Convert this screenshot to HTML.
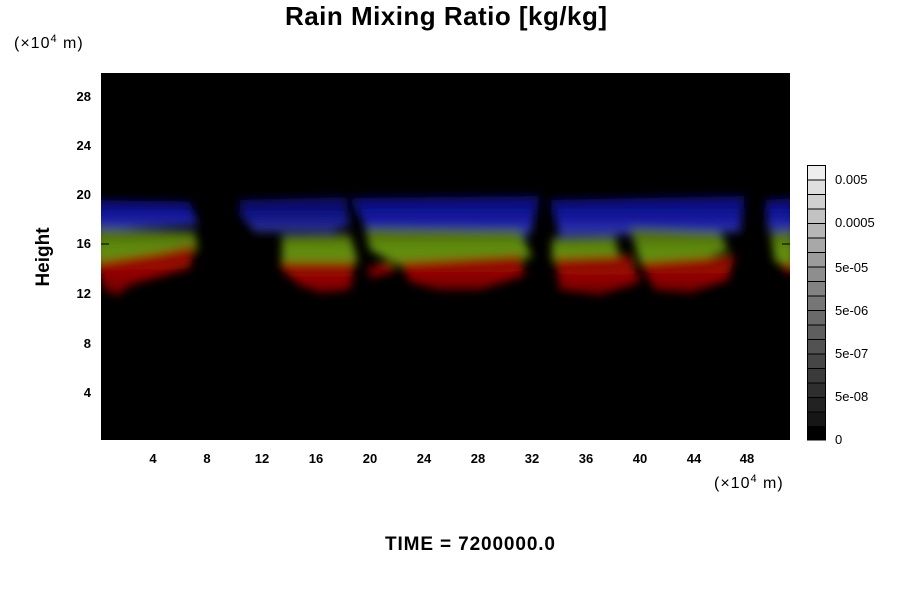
<!DOCTYPE html>
<html><head><style>
body{margin:0;background:#fff;width:900px;height:600px;overflow:hidden;font-family:"Liberation Sans",sans-serif;}
</style></head><body>
<svg width="900" height="600" xmlns="http://www.w3.org/2000/svg" font-family="Liberation Sans, sans-serif">
<defs>
<filter id="b" x="-20%" y="-50%" width="140%" height="200%"><feGaussianBlur stdDeviation="4.5"/></filter>
<clipPath id="c"><rect x="101" y="73" width="689" height="367"/></clipPath>
<linearGradient id="gb" x1="0" y1="0" x2="0" y2="1"><stop offset="0" stop-color="#0a0a70"/><stop offset="0.6" stop-color="#1418a0"/><stop offset="1" stop-color="#3a40a8"/></linearGradient>
<linearGradient id="gg" x1="0" y1="0" x2="0" y2="1"><stop offset="0" stop-color="#4a5a10"/><stop offset="0.5" stop-color="#5e8e08"/><stop offset="1" stop-color="#6a8a08"/></linearGradient>
<linearGradient id="gr" x1="0" y1="0" x2="0" y2="1"><stop offset="0" stop-color="#8a1006"/><stop offset="0.5" stop-color="#960606"/><stop offset="1" stop-color="#6a0404"/></linearGradient>
</defs>
<text x="446" y="25" font-size="26" font-weight="bold" text-anchor="middle" textLength="322">Rain Mixing Ratio [kg/kg]</text>
<text x="14" y="48" font-size="16" letter-spacing="1">(×10<tspan font-size="11" dy="-6">4</tspan><tspan dy="6">  m)</tspan></text>
<rect x="101" y="73" width="689" height="367" fill="#000"/>
<g clip-path="url(#c)" filter="url(#b)">
<!-- blue -->
<path d="M95,200 L190,202 L198,225 L95,230Z" fill="url(#gb)"/>
<path d="M240,200 L345,197 L350,225 L330,232 L255,232 L240,215Z" fill="url(#gb)" opacity="0.85"/>
<path d="M350,198 L540,196 L530,235 L370,235Z" fill="url(#gb)"/>
<path d="M550,200 L745,196 L740,232 L560,236Z" fill="url(#gb)"/>
<path d="M765,200 L795,198 L795,232 L768,230Z" fill="url(#gb)"/>
<!-- green -->
<path d="M95,228 L195,232 L198,250 L95,268Z" fill="url(#gg)"/>
<path d="M282,235 L350,234 L358,262 L282,262Z" fill="url(#gg)"/>
<path d="M365,228 L520,230 L532,258 L400,266 L370,250Z" fill="url(#gg)"/>
<path d="M552,238 L615,236 L620,262 L552,262Z" fill="url(#gg)"/>
<path d="M630,228 L720,232 L728,250 L665,272 L640,262Z" fill="url(#gg)"/>
<path d="M770,232 L795,230 L795,268 L775,262Z" fill="url(#gg)"/>
<!-- red -->
<path d="M95,262 L160,252 L195,245 L190,268 L130,285 L118,296 L105,290Z" fill="url(#gr)"/>
<path d="M280,262 L355,262 L350,290 L320,293 L300,285 L282,270Z" fill="url(#gr)"/>
<path d="M368,268 L390,262 L395,272 L370,278Z" fill="url(#gr)"/>
<path d="M400,262 L520,255 L525,275 L480,290 L440,290 L410,282Z" fill="url(#gr)"/>
<path d="M555,258 L630,255 L640,282 L600,295 L560,290Z" fill="url(#gr)"/>
<path d="M640,262 L735,255 L728,280 L690,293 L655,290Z" fill="url(#gr)"/>
<path d="M780,262 L795,265 L795,275 L785,272Z" fill="url(#gr)"/>
</g>
<g stroke="#000" stroke-width="1">
<line x1="101" y1="244" x2="109" y2="244"/><line x1="782" y1="244" x2="790" y2="244"/>
</g>
<g font-size="13" font-weight="bold" text-anchor="middle">
<text x="153" y="463">4</text><text x="207" y="463">8</text><text x="262" y="463">12</text><text x="316" y="463">16</text><text x="370" y="463">20</text><text x="424" y="463">24</text><text x="478" y="463">28</text><text x="532" y="463">32</text><text x="586" y="463">36</text><text x="640" y="463">40</text><text x="694" y="463">44</text><text x="747" y="463">48</text>
</g>
<g font-size="13" font-weight="bold" text-anchor="end">
<text x="91" y="101">28</text><text x="91" y="150">24</text><text x="91" y="199">20</text><text x="91" y="248">16</text><text x="91" y="298">12</text><text x="91" y="348">8</text><text x="91" y="397">4</text>
</g>
<text transform="translate(49,257) rotate(-90)" font-size="19" font-weight="bold" text-anchor="middle">Height</text>
<text x="714" y="488" font-size="16" letter-spacing="1">(×10<tspan font-size="11" dy="-6">4</tspan><tspan dy="6">  m)</tspan></text>
<text x="470" y="550" font-size="19" font-weight="bold" text-anchor="middle" textLength="170">TIME = 7200000.0</text>
<g stroke="#000" stroke-width="1">
<rect x="807.5" y="165.5" width="18" height="14.5" fill="#eeeeee"/>
<rect x="807.5" y="180" width="18" height="14.5" fill="#dedede"/>
<rect x="807.5" y="194.5" width="18" height="14.5" fill="#d0d0d0"/>
<rect x="807.5" y="209" width="18" height="14.5" fill="#c2c2c2"/>
<rect x="807.5" y="223.5" width="18" height="14.5" fill="#b6b6b6"/>
<rect x="807.5" y="238" width="18" height="14.5" fill="#a8a8a8"/>
<rect x="807.5" y="252.5" width="18" height="14.5" fill="#9c9c9c"/>
<rect x="807.5" y="267" width="18" height="14.5" fill="#8e8e8e"/>
<rect x="807.5" y="281.5" width="18" height="14.5" fill="#828282"/>
<rect x="807.5" y="296" width="18" height="14.5" fill="#767676"/>
<rect x="807.5" y="310.5" width="18" height="14.5" fill="#6a6a6a"/>
<rect x="807.5" y="325" width="18" height="14.5" fill="#5e5e5e"/>
<rect x="807.5" y="339.5" width="18" height="14.5" fill="#525252"/>
<rect x="807.5" y="354" width="18" height="14.5" fill="#464646"/>
<rect x="807.5" y="368.5" width="18" height="14.5" fill="#3a3a3a"/>
<rect x="807.5" y="383" width="18" height="14.5" fill="#2e2e2e"/>
<rect x="807.5" y="397.5" width="18" height="14.5" fill="#222222"/>
<rect x="807.5" y="412" width="18" height="14.5" fill="#161616"/>
<rect x="807.5" y="426.5" width="18" height="13.5" fill="#000"/>
</g>
<g font-size="13">
<text x="835" y="184">0.005</text><text x="835" y="227">0.0005</text><text x="835" y="272">5e-05</text><text x="835" y="315">5e-06</text><text x="835" y="358">5e-07</text><text x="835" y="401">5e-08</text><text x="835" y="444">0</text>
</g>
</svg>
</body></html>
